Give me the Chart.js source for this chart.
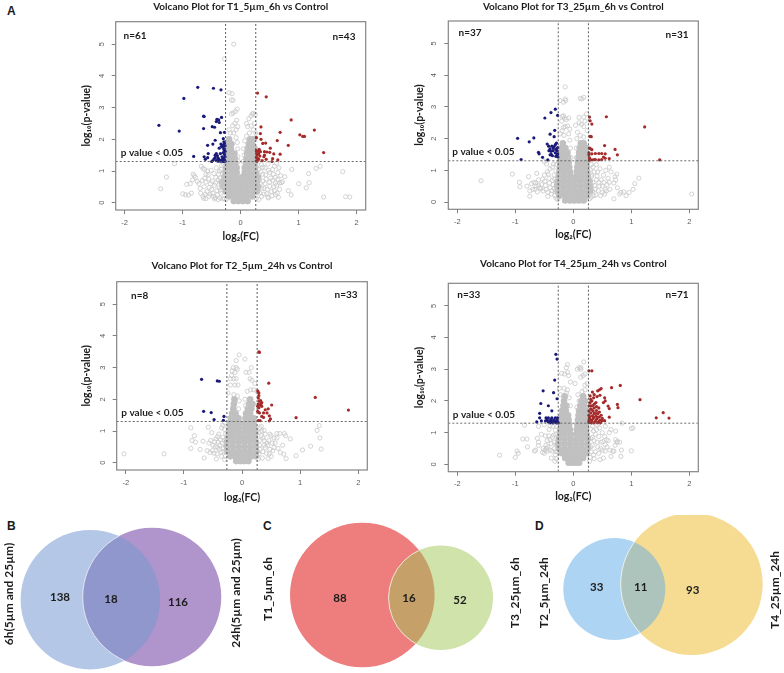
<!DOCTYPE html>
<html>
<head>
<meta charset="utf-8">
<title>Volcano plots and Venn diagrams</title>
<script src="https://cdn.jsdelivr.net/npm/chart.js@4/dist/chart.umd.min.js"></script>
<style>
html, body { margin: 0; padding: 0; background: #fff; width: 784px; height: 673px; overflow: hidden; }
canvas { position: absolute; display: block; }
.tag { position: absolute; font: bold 12px "Liberation Sans", sans-serif; color: #1a1a1a; line-height: 12px; }
</style>
</head>
<body>
<div class="tag" style="left:7px;top:5px">A</div>
<div class="tag" style="left:7px;top:520px">B</div>
<div class="tag" style="left:263px;top:520px">C</div>
<div class="tag" style="left:535px;top:520px">D</div>
<canvas id="volcanoT1" width="310" height="250" style="left:70px;top:0"></canvas>
<canvas id="volcanoT3" width="310" height="250" style="left:403px;top:0"></canvas>
<canvas id="volcanoT2" width="310" height="260" style="left:70px;top:250px"></canvas>
<canvas id="volcanoT4" width="310" height="260" style="left:403px;top:250px"></canvas>
<canvas id="vennCanvas" width="784" height="158" style="left:0;top:515px"></canvas>
<script>
// Axis ticks and cut-offs shared by the four volcano plots
const xTickValues = [-2, -1, 0, 1, 2];
const yTickValues = [0, 1, 2, 3, 4, 5];
const fcCut = 0.26;
const pCut = 1.3;

// T1_5um_6h: [log2FC, log10p]
const t1Down = [[-0.74,3.64],[-0.47,3.61],[-0.34,3.56],[-0.98,3.29],[-0.64,2.73],[-0.63,2.72],[-1.41,2.44],[-1.06,2.26],[-0.64,2.34],[-0.49,2.4],[-0.45,2.38],[-0.41,2.63],[-0.38,2.61],[-0.42,2.56],[-0.37,2.53],[-0.33,2.69],[-0.35,2.21],[-0.28,2.22],[-0.3,2.02],[-0.57,1.81],[-0.48,1.85],[-0.44,1.97],[-0.81,1.46],[-0.61,1.37],[-0.56,1.55],[-0.63,1.45],[-0.57,1.42],[-0.28,1.87],[-0.3,1.82],[-0.27,1.8],[-0.34,1.85],[-0.31,1.75],[-0.28,1.7],[-0.27,1.62],[-0.3,1.58],[-0.35,1.55],[-0.28,1.52],[-0.42,1.55],[-0.4,1.48],[-0.44,1.42],[-0.38,1.38],[-0.42,1.33],[-0.36,1.32],[-0.3,1.4],[-0.28,1.35],[-0.33,1.35],[-0.27,1.31],[-0.48,1.33],[-0.5,1.3],[-0.39,1.4],[-0.32,1.45],[-0.27,1.45],[-0.29,1.68],[-0.33,1.78],[-0.37,1.72],[-0.29,1.92],[-0.44,1.5],[-0.3,1.3],[-0.34,1.31],[-0.39,1.31],[-0.46,1.38]];
const t1Up = [[0.29,3.46],[0.44,3.34],[0.87,2.61],[1.27,2.29],[1.02,2.14],[1.07,2.09],[1.1,2.09],[1.43,1.58],[0.82,1.81],[0.68,2.22],[0.63,1.96],[0.35,2.39],[0.34,2.18],[0.27,2.05],[0.35,2],[0.38,1.87],[0.43,1.88],[0.51,1.72],[0.57,1.54],[0.68,1.53],[0.64,1.35],[0.54,1.3],[0.55,1.39],[0.45,1.6],[0.41,1.61],[0.5,1.59],[0.41,1.5],[0.32,1.68],[0.27,1.64],[0.31,1.54],[0.28,1.51],[0.27,1.43],[0.31,1.37],[0.28,1.31],[0.37,1.33],[0.4,1.45],[0.44,1.37],[0.34,1.61],[0.29,1.4],[0.27,1.32],[0.33,1.47],[0.3,1.62],[0.28,1.55]];
const t1Other = [[-0.12,5],[-0.28,4.54],[-0.2,3.47],[-0.15,3.44],[-0.16,3.24],[-0.13,3.23],[-0.06,2.95],[-0.09,2.88],[-0.16,2.8],[-0.13,2.83],[-0.07,2.6],[-0.1,2.5],[-0.14,2.43],[-0.2,2.3],[-0.18,2.2],[-0.05,2.4],[-0.08,2.3],[-0.12,2.2],[0.18,2.74],[0.2,2.8],[0.22,2.82],[0.25,2.78],[0.14,2.65],[0.1,2.5],[0.24,2.5],[0.18,2.42],[0.12,2.4],[0.22,2.3],[0.15,2.2],[0.1,2.1],[0.07,1.95],[-0.08,2.05],[-0.06,1.9],[-0.05,1.7],[0.05,1.7],[0.06,1.5],[-0.05,1.45],[0.26,2.05],[0.26,2.2],[0.04,1.3],[-0.04,1.3],[-1.14,1.23],[-1.28,0.81],[-1.38,0.44],[-1,0.28],[-0.95,0.25],[-0.9,0.24],[-0.85,0.3],[-0.93,0.58],[-0.87,0.6],[-0.83,0.72],[-0.82,0.9],[-0.8,0.85],[-0.78,0.8],[-0.75,0.67],[-0.72,0.6],[-0.7,0.45],[-0.69,0.3],[-0.65,0.2],[-0.6,0.13],[-0.55,0.2],[-0.68,1.15],[-0.65,1.08],[-0.62,1.05],[-0.6,0.9],[-0.57,1],[-0.55,0.75],[-0.52,0.6],[-0.5,0.42],[-0.48,0.3],[-0.45,0.55],[-0.43,0.8],[-0.42,1.1],[-0.4,0.25],[-0.38,0.9],[-0.36,0.65],[-0.35,0.4],[-0.34,1.05],[-0.36,0.15],[-0.45,0.12],[-0.6,0.65],[-0.63,0.5],[-0.66,0.7],[1.88,0.18],[1.81,0.19],[1.43,0.18],[1.76,0.98],[1.37,1.15],[1.3,1.08],[1.18,0.63],[1.17,0.92],[1.13,0.47],[1,0.6],[0.88,1.05],[0.87,0.25],[0.82,0.38],[0.76,0.82],[0.72,0.66],[0.7,0.63],[0.67,0.62],[0.65,0.17],[0.62,0.55],[0.6,0.8],[0.6,0.25],[0.57,0.5],[0.55,1.05],[0.53,0.35],[0.5,0.95],[0.5,0.65],[0.48,0.15],[0.45,0.28],[0.44,0.75],[0.42,1.1],[0.4,0.45],[0.38,0.9],[0.36,0.2],[0.36,1.2],[0.34,0.6],[0.62,1.25],[0.66,1.1],[0.58,1.15],[0.64,0.95],[0.55,0.7]];
const t1Near = [[-0.31,0.12],[-0.34,0.3],[-0.37,0.47],[-0.33,0.52],[-0.39,0.72],[-0.35,0.78],[-0.31,0.9],[-0.37,1],[-0.33,1.18],[-0.3,1.22],[-0.41,0.38],[-0.43,0.62],[-0.46,0.92],[-0.47,0.2],[-0.49,0.68],[-0.51,1.02],[-0.53,0.27],[-0.54,0.48],[-0.56,0.88],[-0.58,0.35],[-0.61,0.27],[-0.62,0.77],[-0.64,0.14],[-0.44,0.16],[-0.39,0.1],[-0.31,0.62],[-0.28,0.13],[-0.25,0.1],[0.31,0.1],[0.33,0.3],[0.36,0.45],[0.32,0.72],[0.38,0.68],[0.35,0.98],[0.31,1.05],[0.4,0.27],[0.42,0.6],[0.43,0.88],[0.46,0.42],[0.47,0.18],[0.48,1.02],[0.5,0.52],[0.52,0.78],[0.54,0.22],[0.56,0.9],[0.58,0.38],[0.6,0.62],[0.63,0.3],[0.64,0.74],[0.67,0.42],[0.69,0.85],[0.27,0.14],[0.38,1.12],[0.47,1.22],[0.29,1.2]];
// dense middle of the cloud, one row per log10p: [log10p, [log2FC...]]
const t1Core = [[0.05,[-0.12,-0.04,0.04,0.12]],[0.2,[-0.2,-0.1,0,0.1,0.2]],[0.35,[-0.26,-0.16,-0.07,0.03,0.12,0.22,0.28]],[0.5,[-0.3,-0.2,-0.1,0,0.1,0.2,0.3]],[0.65,[-0.32,-0.22,-0.12,-0.02,0.08,0.18,0.28]],[0.8,[-0.28,-0.18,-0.08,0.02,0.12,0.22,0.3]],[0.95,[-0.26,-0.16,-0.07,0.07,0.16,0.26]],[1.1,[-0.25,-0.16,-0.07,0.07,0.16,0.25]],[1.25,[-0.24,-0.16,-0.09,0.09,0.16,0.24]],[1.4,[-0.24,-0.16,-0.1,0.1,0.16,0.24]],[1.55,[-0.24,-0.17,-0.11,0.11,0.17,0.24]],[1.7,[-0.23,-0.17,0.12,0.18,0.24]],[1.85,[-0.22,-0.16,0.14,0.2]],[2,[-0.2,0.16,0.22]]];

// T3_25um_6h
const t3Down = [[-0.31,2.93],[-0.385,2.82],[-0.27,2.73],[-0.49,2.65],[-0.32,2.26],[-0.4,2.14],[-0.33,2.06],[-0.96,2.01],[-0.68,2.02],[-0.76,1.9],[-0.45,1.83],[-0.9,1.34],[-0.6,1.57],[-0.59,1.52],[-0.53,1.41],[-0.44,1.33],[-0.4,1.68],[-0.425,1.76],[-0.37,1.76],[-0.31,1.81],[-0.29,1.86],[-0.345,1.7],[-0.385,1.6],[-0.4,1.49],[-0.31,1.55],[-0.27,1.52],[-0.3,1.44],[-0.36,1.46],[-0.265,1.42],[-0.28,1.62],[-0.33,1.75],[-0.27,1.72],[-0.3,1.66],[-0.35,1.62],[-0.38,1.5],[-0.28,1.48],[-0.42,1.62]];
const t3Up = [[0.57,2.69],[1.23,2.37],[1.49,1.33],[0.28,2.68],[0.29,2.56],[0.32,2.46],[0.29,2.07],[0.31,2.06],[0.54,1.78],[0.72,1.66],[0.76,1.49],[0.62,1.37],[0.55,1.52],[0.49,1.53],[0.52,1.42],[0.44,1.53],[0.38,1.53],[0.32,1.52],[0.27,1.55],[0.28,1.7],[0.32,1.65],[0.28,1.39],[0.28,1.32],[0.32,1.33],[0.38,1.34],[0.44,1.33],[0.55,1.38],[0.49,1.34],[0.27,1.49],[0.3,1.68],[0.36,1.34]];
const t3Other = [[-0.14,3.63],[0.12,3.27],[0.18,3.3],[0.15,3.25],[-0.23,3.2],[-0.14,3.25],[-0.13,3.2],[-0.17,3.15],[-0.19,2.7],[-0.17,2.72],[-0.15,2.65],[-0.08,2.65],[-0.12,2.6],[-0.2,2.55],[-0.1,2.4],[-0.14,2.38],[-0.17,2.35],[-0.19,2.25],[-0.16,2.1],[-0.06,2.3],[-0.23,2.15],[-0.08,2.15],[0.1,2.67],[0.18,2.68],[0.23,2.78],[0.2,2.55],[0.1,2.5],[0.14,2.45],[0.04,2.42],[0.18,2.38],[0.07,2.2],[0.24,2.25],[0.12,2.1],[0.18,2.05],[0.06,2],[-0.06,1.95],[-0.05,1.7],[0.05,1.7],[-0.04,1.4],[0.05,1.4],[-1.59,0.67],[-1.05,0.88],[-0.93,0.62],[-0.92,0.48],[-0.77,0.8],[-0.8,0.5],[-0.75,0.35],[-0.72,0.58],[-0.7,0.4],[-0.68,0.62],[-0.65,0.6],[-0.63,0.9],[-0.6,0.7],[-0.55,0.55],[-0.52,0.35],[-0.5,0.85],[-0.48,0.52],[-0.45,0.95],[-0.42,0.75],[-0.4,0.45],[-0.38,0.25],[-0.35,0.55],[-0.33,0.85],[-0.36,1.1],[-0.4,1.05],[-0.32,0.2],[-0.3,0.12],[-0.75,0.18],[-0.5,1.28],[-0.46,1.2],[-0.58,0.45],[-0.64,0.5],[-0.44,0.3],[2.04,0.25],[1.13,0.75],[1.06,0.58],[1.03,0.4],[0.96,0.3],[0.91,0.2],[0.87,0.32],[0.82,0.3],[0.8,0.25],[0.76,0.45],[0.72,0.8],[0.73,0.7],[0.7,0.6],[0.75,0.88],[0.65,0.95],[0.62,1.1],[0.56,1],[0.52,0.85],[0.48,0.7],[0.6,0.75],[0.58,0.55],[0.55,0.4],[0.5,0.3],[0.45,0.5],[0.42,0.95],[0.4,0.7],[0.38,0.4],[0.35,0.2],[0.34,1.1],[0.32,0.85],[0.3,0.55],[0.46,1.05],[0.7,0.1],[0.63,0.4]];
const t3Near = [[-0.31,0.32],[-0.33,0.42],[-0.36,0.68],[-0.32,0.72],[-0.3,0.98],[-0.34,1.2],[-0.29,1.18],[-0.37,0.36],[-0.41,0.6],[-0.43,0.88],[-0.44,0.18],[-0.47,0.4],[-0.49,0.66],[-0.53,0.72],[-0.56,0.42],[-0.6,0.52],[-0.62,0.32],[-0.66,0.4],[-0.27,0.08],[0.31,0.15],[0.33,0.34],[0.34,0.62],[0.31,0.8],[0.36,0.95],[0.29,1.02],[0.37,0.52],[0.39,0.22],[0.41,0.82],[0.43,0.36],[0.44,0.62],[0.47,0.2],[0.5,0.5],[0.53,0.62],[0.54,0.25],[0.57,0.35],[0.62,0.62],[0.28,0.1],[0.31,1.18],[0.4,1.18]];
const t3Core = [[0.05,[-0.14,-0.06,0.02,0.1,0.18]],[0.2,[-0.24,-0.14,-0.05,0.05,0.14,0.24]],[0.35,[-0.27,-0.17,-0.07,0.03,0.13,0.23,0.29]],[0.5,[-0.28,-0.18,-0.08,0.02,0.12,0.22,0.29]],[0.65,[-0.27,-0.17,-0.07,0.03,0.13,0.23,0.28]],[0.8,[-0.25,-0.15,-0.05,0.05,0.15,0.25]],[0.95,[-0.24,-0.15,-0.06,0.06,0.15,0.24]],[1.1,[-0.23,-0.15,-0.07,0.07,0.15,0.23]],[1.25,[-0.23,-0.15,-0.08,0.08,0.15,0.23]],[1.4,[-0.22,-0.15,-0.09,0.09,0.15,0.22]],[1.55,[-0.22,-0.15,-0.1,0.1,0.16,0.22]],[1.7,[-0.2,-0.14,0.11,0.17,0.22]],[1.85,[-0.18,0.13,0.18]]];

// T2_5um_24h
const t2Down = [[-0.695,2.63],[-0.425,2.58],[-0.39,2.57],[-0.66,1.62],[-0.53,1.58],[-0.31,1.46],[-0.48,1.36],[-0.32,1.34]];
const t2Up = [[0.29,3.5],[0.3,3.48],[0.46,2.51],[1.26,2.06],[1.83,1.66],[0.93,1.42],[0.51,1.82],[0.27,2.26],[0.29,2.2],[0.29,2.12],[0.32,1.96],[0.34,1.9],[0.28,1.86],[0.31,1.82],[0.34,1.78],[0.27,1.78],[0.4,1.67],[0.45,1.7],[0.43,1.57],[0.37,1.57],[0.47,1.48],[0.49,1.38],[0.47,1.32],[0.27,1.62],[0.3,1.57],[0.34,1.46],[0.28,1.33],[0.31,1.33],[0.29,1.73],[0.33,1.86],[0.3,1.94],[0.28,2.04],[0.37,1.43]];
const t2Other = [[-0.05,3.4],[0.05,3.27],[-0.1,3.22],[-0.15,3],[-0.17,2.9],[-0.18,2.75],[-0.1,3],[-0.12,2.85],[-0.08,2.95],[-0.2,2.65],[-0.14,2.65],[-0.1,2.65],[0.07,2.85],[0.12,2.85],[0.16,3],[0.14,2.65],[0.17,2.6],[0.22,2.5],[-0.2,2.45],[-0.12,2.45],[-0.07,2.45],[0.15,2.3],[0.2,2.3],[0.09,2.25],[0.26,2.25],[-0.24,2.2],[-0.14,2.15],[-0.08,2.1],[0.05,2],[-0.05,1.95],[0.06,1.8],[-0.06,1.7],[-2.03,0.28],[-1.34,0.28],[-0.88,1.1],[-0.82,0.85],[-0.88,0.45],[-0.86,0.7],[-0.8,0.65],[-0.72,0.42],[-0.67,0.68],[-0.65,0.15],[-0.6,0.38],[-0.57,0.62],[-0.55,0.32],[-0.5,0.55],[-0.48,0.3],[-0.45,0.75],[-0.43,0.28],[-0.4,0.9],[-0.38,0.55],[-0.35,0.2],[-0.33,0.8],[-0.32,0.45],[-0.3,1.05],[-0.35,1.1],[-0.44,0.12],[-0.58,1.12],[-0.3,0.1],[-0.52,0.95],[-0.46,0.5],[-0.54,0.7],[-0.41,0.65],[1.33,1.17],[1.29,1.02],[1.34,0.78],[1.36,0.43],[1.18,0.52],[1.04,0.4],[0.93,0.22],[0.76,0.13],[0.72,0.27],[0.7,0.55],[0.66,0.32],[0.83,0.75],[0.75,0.85],[0.73,0.92],[0.65,0.92],[0.6,0.78],[0.6,0.92],[0.57,0.62],[0.55,0.48],[0.53,0.38],[0.5,0.85],[0.5,0.2],[0.46,0.7],[0.45,0.13],[0.42,0.3],[0.4,0.9],[0.38,0.55],[0.35,0.15],[0.34,1],[0.3,0.7],[0.33,1.15],[0.48,0.42],[0.44,0.55],[0.36,0.78]];
const t2Near = [[-0.29,0.2],[-0.31,0.36],[-0.34,0.62],[-0.3,0.7],[-0.28,0.92],[-0.33,1.18],[-0.36,0.34],[-0.37,0.72],[-0.39,0.42],[-0.42,0.48],[-0.42,0.82],[-0.47,0.66],[-0.51,0.38],[-0.28,0.52],[-0.3,1.25],[0.29,0.28],[0.31,0.42],[0.3,0.55],[0.33,0.85],[0.29,0.95],[0.36,0.35],[0.38,0.7],[0.4,0.48],[0.43,0.62],[0.47,0.28],[0.48,0.9],[0.52,0.62],[0.55,0.78],[0.28,0.12],[0.31,1.1],[0.38,1.02],[0.62,0.45]];
const t2Core = [[0.05,[-0.1,-0.03,0.04,0.11]],[0.2,[-0.2,-0.11,-0.02,0.07,0.16,0.24]],[0.35,[-0.25,-0.15,-0.05,0.05,0.15,0.25]],[0.5,[-0.26,-0.16,-0.06,0.04,0.14,0.24]],[0.65,[-0.26,-0.16,-0.06,0.04,0.14,0.24]],[0.8,[-0.24,-0.15,-0.06,0.03,0.12,0.22]],[0.95,[-0.23,-0.14,-0.05,0.05,0.14,0.23]],[1.1,[-0.21,-0.13,-0.05,0.05,0.13,0.21]],[1.25,[-0.2,-0.13,-0.05,0.05,0.13,0.2]],[1.4,[-0.19,-0.12,-0.06,0.06,0.13,0.2]],[1.55,[-0.17,-0.11,0.07,0.14]],[1.7,[-0.15,0.1,0.16]],[1.85,[-0.14,0.12,0.18]],[2,[-0.13,0.14]]];

// T4_25um_24h
const t4Down = [[-0.3,3.47],[-0.28,3.32],[-0.32,2.66],[-0.52,2.32],[-0.34,2.26],[-0.28,2.07],[-0.56,1.92],[-0.43,1.85],[-0.37,1.69],[-0.58,1.61],[-0.58,1.47],[-0.63,1.34],[-0.55,1.37],[-0.47,1.47],[-0.43,1.47],[-0.37,1.47],[-0.31,1.47],[-0.27,1.47],[-0.45,1.4],[-0.41,1.36],[-0.37,1.34],[-0.31,1.34],[-0.27,1.34],[-0.28,1.4],[-0.34,1.4],[-0.39,1.41],[-0.48,1.37],[-0.43,1.34],[-0.29,1.31],[-0.26,1.31],[-0.35,1.31],[-0.4,1.31],[-0.32,1.37]];
const t4Up = [[0.27,2.95],[0.32,2.95],[0.81,2.49],[0.66,2.42],[1.15,2.04],[1.43,1.47],[1.55,1.63],[1.65,1.46],[0.48,2.39],[0.45,2.35],[0.42,2.32],[0.33,2.28],[0.29,2.16],[0.35,2.1],[0.41,2.14],[0.54,2.1],[0.55,2],[0.32,2],[0.39,1.95],[0.29,1.95],[0.6,1.84],[0.62,1.76],[0.76,1.89],[0.77,1.79],[0.62,1.49],[0.27,1.85],[0.33,1.85],[0.36,1.78],[0.3,1.75],[0.27,1.68],[0.34,1.68],[0.4,1.7],[0.45,1.65],[0.3,1.62],[0.36,1.6],[0.42,1.6],[0.48,1.55],[0.27,1.55],[0.33,1.53],[0.39,1.52],[0.45,1.5],[0.28,1.45],[0.34,1.44],[0.4,1.42],[0.5,1.45],[0.27,1.38],[0.32,1.37],[0.38,1.36],[0.44,1.35],[0.5,1.38],[0.54,1.38],[0.27,1.32],[0.31,1.31],[0.36,1.31],[0.42,1.31],[0.47,1.31],[0.3,2.05],[0.36,2.2],[0.46,2.18],[0.52,1.95],[0.4,1.82],[0.44,1.78],[0.28,1.5],[0.35,1.48],[0.3,1.4],[0.36,1.9],[0.3,1.85],[0.42,1.48],[0.38,1.62],[0.46,1.4],[0.32,1.72]];
const t4Other = [[0.18,3.23],[0.13,3.05],[0.1,3.05],[0.07,3],[0.13,3],[-0.1,3.15],[-0.12,3.05],[-0.1,2.9],[-0.2,2.87],[-0.15,2.85],[-0.08,2.8],[0.2,2.85],[0.17,2.8],[0.13,2.75],[-0.05,2.6],[0.03,2.55],[0.2,2.5],[0.24,2.55],[-0.24,2.4],[-0.16,2.4],[-0.1,2.35],[0.2,2.35],[0.15,2.3],[-0.22,2.2],[-0.12,2.25],[0.08,2.2],[-0.07,2.1],[0.1,2],[-0.05,1.85],[0.06,1.8],[-1.27,0.29],[-1,0.22],[-0.97,0.42],[-0.95,0.35],[-0.87,0.8],[-0.8,0.8],[-0.79,0.55],[-0.67,0.42],[-0.65,0.45],[-0.62,0.82],[-0.6,0.7],[-0.6,0.6],[-0.55,0.95],[-0.52,0.5],[-0.5,0.35],[-0.48,0.9],[-0.47,0.6],[-0.45,0.75],[-0.42,1.1],[-0.4,0.45],[-0.38,0.2],[-0.35,1.2],[-0.33,0.7],[-0.32,0.1],[-0.3,0.95],[-0.3,0.4],[-0.84,1.24],[-0.6,1.2],[-0.5,1.25],[-0.44,0.55],[-0.36,0.85],[1,0.43],[1.03,1.15],[1,1.13],[0.83,0.45],[0.82,0.25],[0.75,0.7],[0.8,0.7],[0.76,0.72],[0.73,0.78],[0.7,0.42],[0.68,0.42],[0.72,0.6],[0.65,0.25],[0.63,0.45],[0.6,0.75],[0.57,0.78],[0.55,0.62],[0.55,0.42],[0.52,0.2],[0.5,0.45],[0.48,0.7],[0.46,0.15],[0.42,0.55],[0.4,1.1],[0.38,0.95],[0.35,0.3],[0.33,0.85],[0.33,1.2],[0.3,0.55],[0.62,1],[0.55,1.2],[0.45,1.15],[0.84,1.3],[0.65,1.1],[0.73,1.05],[0.5,1],[0.44,0.35]];
const t4Near = [[-0.29,0.18],[-0.31,0.3],[-0.33,0.5],[-0.3,0.62],[-0.34,0.92],[-0.31,1.08],[-0.29,1.2],[-0.37,0.42],[-0.38,0.66],[-0.4,0.78],[-0.42,0.9],[-0.45,0.42],[-0.46,0.5],[-0.49,0.45],[-0.53,0.38],[-0.28,0.42],[-0.4,1.22],[0.29,0.22],[0.31,0.4],[0.33,0.6],[0.3,0.82],[0.36,0.75],[0.35,1.05],[0.3,1.12],[0.38,0.4],[0.41,0.7],[0.44,0.88],[0.47,0.5],[0.51,0.72],[0.54,0.88],[0.58,0.55],[0.42,1.25],[0.28,0.1],[0.36,0.18]];
const t4Core = [[0.05,[-0.08,-0.02,0.04,0.1]],[0.2,[-0.14,-0.06,0.02,0.1,0.17]],[0.35,[-0.2,-0.11,-0.02,0.07,0.16,0.23]],[0.5,[-0.25,-0.15,-0.05,0.05,0.15,0.25]],[0.65,[-0.26,-0.16,-0.06,0.04,0.14,0.24]],[0.8,[-0.25,-0.15,-0.05,0.05,0.15,0.25]],[0.95,[-0.23,-0.14,-0.05,0.05,0.14,0.23]],[1.1,[-0.22,-0.14,-0.06,0.06,0.14,0.22]],[1.25,[-0.21,-0.14,-0.07,0.07,0.14,0.22]],[1.4,[-0.21,-0.14,-0.08,0.08,0.14,0.22]],[1.55,[-0.2,-0.13,-0.09,0.09,0.14,0.21]],[1.7,[-0.19,-0.13,0.1,0.16,0.22]],[1.85,[-0.17,-0.12,0.12,0.18]],[2,[-0.16,0.14,0.2]],[2.15,[-0.15,0.17]]];

// Venn diagrams: every circle in one coordinate frame
const vennCircleX = { B: [90.3, 152], C: [362.3, 440.8], D: [614.3, 691.7] };
const vennCircleY = { B: [599.7, 597], C: [595, 597.8], D: [589, 584] };
const vennCircleR = { B: [69.7, 69.3], C: [72.3, 52.2], D: [51, 71] };
const vennCounts = ['138', '18', '116', '88', '16', '52', '33', '11', '93'];
const vennCountX = [60, 111, 178, 340, 409, 460, 596.7, 640.7, 692.7];
const vennCountY = [597, 599, 602, 598, 598.7, 600.7, 587, 587, 590];
const vennNames = ['6h(5µm and 25µm)', '24h(5µm and 25µm)', 'T1_5µm_6h', 'T3_25µm_6h', 'T2_5µm_24h', 'T4_25µm_24h'];
const vennNameX = [9, 235.7, 267.7, 515.3, 543.7, 775.3];
const vennNameY = [594, 593, 589, 592.7, 592.7, 590];

const textFont = 'Lato, "Open Sans", sans-serif';
const textColor = '#1c1c1c';
const greyColor = '#c8c8c8';

function toPoints(pairs) {
    return pairs.map(p => ({ x: p[0], y: p[1] }));
}

// rows of the dense middle -> flat list of points
function coreToPoints(rows) {
    const out = [];
    rows.forEach(r => r[1].forEach(x => out.push({ x: x, y: r[0] })));
    return out;
}

const frameAndNotes = {
    id: 'frameAndNotes',
    afterDraw(chart, args, opts) {
        const { ctx, chartArea, scales } = chart;
        ctx.save();
        ctx.strokeStyle = '#858585';
        ctx.lineWidth = 1.2;
        ctx.strokeRect(chartArea.left, chartArea.top, chartArea.right - chartArea.left, chartArea.bottom - chartArea.top);
        ctx.fillStyle = textColor;
        ctx.font = 'bold 10px ' + textFont;
        ctx.textAlign = 'center';
        ctx.textBaseline = 'middle';
        opts.notes.forEach(n => {
            ctx.fillText(n.text, scales.x.getPixelForValue(n.x), scales.y.getPixelForValue(n.y));
        });
        ctx.restore();
    }
};

function renderVolcano(config) {
    const { canvasId, title, titleY, xTitleY, boxLeft, boxRight, boxTop, boxBottom, canvasLeft, canvasTop, yMin, yMax, down, up, other, core, notes } = config;
    const canvas = document.getElementById(canvasId);
    const titleSize = 10;
    const axisTitleSize = 10.5;
    const xMin = -2.155, xMax = 2.155;

    return new Chart(canvas.getContext('2d'), {
        type: 'scatter',
        data: {
            datasets: [
                { data: [{ x: -fcCut, y: yMin }, { x: -fcCut, y: yMax }], showLine: true, pointRadius: 0, borderColor: '#4a4a4a', borderWidth: 0.9, borderDash: [2, 2] },
                { data: [{ x: fcCut, y: yMin }, { x: fcCut, y: yMax }], showLine: true, pointRadius: 0, borderColor: '#4a4a4a', borderWidth: 0.9, borderDash: [2, 2] },
                { data: [{ x: xMin, y: pCut }, { x: xMax, y: pCut }], showLine: true, pointRadius: 0, borderColor: '#5c5c5c', borderWidth: 0.9, borderDash: [2, 2] },
                { data: toPoints(down), pointRadius: 1.6, backgroundColor: '#1a1a7a', borderWidth: 0 },
                { data: toPoints(up), pointRadius: 1.6, backgroundColor: '#a52a2a', borderWidth: 0 },
                { data: toPoints(other), pointRadius: 2.1, backgroundColor: 'rgba(255,255,255,0)', borderColor: greyColor, borderWidth: 0.8 },
                { data: coreToPoints(core), pointRadius: 3.3, backgroundColor: '#c0c0c0', borderWidth: 0 }
            ]
        },
        options: {
            responsive: false,
            animation: false,
            events: [],
            layout: { autoPadding: false, padding: { right: canvas.width - (boxRight - canvasLeft) } },
            scales: {
                x: {
                    type: 'linear', min: xMin, max: xMax,
                    afterBuildTicks: s => { s.ticks = xTickValues.map(v => ({ value: v })); },
                    afterFit: s => { s.height = canvasTop + canvas.height - boxBottom; },
                    grid: { drawOnChartArea: false, drawTicks: true, tickLength: 4, color: '#808080' },
                    border: { display: false },
                    ticks: { padding: 4, maxRotation: 0, autoSkip: false, color: '#5a5a5a', font: { family: '"Liberation Sans"', size: 7.5 } },
                    title: { display: true, text: 'log₂(FC)', color: textColor, font: { family: textFont, size: axisTitleSize, weight: 'bold', lineHeight: 1 }, padding: { top: 0, bottom: canvasTop + canvas.height - xTitleY - axisTitleSize / 2 } }
                },
                y: {
                    type: 'linear', min: yMin, max: yMax,
                    afterBuildTicks: s => { s.ticks = yTickValues.map(v => ({ value: v })); },
                    afterFit: s => { s.width = boxLeft - canvasLeft; },
                    grid: { drawOnChartArea: false, drawTicks: true, tickLength: 4, color: '#808080' },
                    border: { display: false },
                    ticks: { padding: 8, minRotation: 90, maxRotation: 90, crossAlign: 'center', autoSkip: false, color: '#5a5a5a', font: { family: '"Liberation Sans"', size: 7.5 } },
                    title: { display: true, text: 'log₁₀(p-value)', color: textColor, font: { family: textFont, size: axisTitleSize, weight: 'bold', lineHeight: 1 }, padding: { top: 11.5, bottom: 0 } }
                }
            },
            plugins: {
                legend: { display: false },
                tooltip: { enabled: false },
                title: {
                    display: true, text: title, fullSize: false, color: textColor,
                    font: { family: textFont, size: titleSize, weight: 'bold', lineHeight: 1 },
                    padding: { top: titleY - canvasTop - titleSize / 2, bottom: boxTop - titleY - titleSize / 2 }
                },
                frameAndNotes: { notes: notes }
            }
        },
        plugins: [frameAndNotes]
    });
}

renderVolcano({
    canvasId: 'volcanoT1', title: 'Volcano Plot for T1_5µm_6h vs Control', titleY: 7, xTitleY: 237,
    canvasLeft: 70, canvasTop: 0, boxLeft: 115.7, boxRight: 365.7, boxTop: 21.7, boxBottom: 210,
    yMin: -0.23, yMax: 5.71, down: t1Down, up: t1Up, other: t1Other.concat(t1Near), core: t1Core,
    notes: [{ text: 'n=61', x: -1.82, y: 5.26 }, { text: 'n=43', x: 1.78, y: 5.24 }, { text: 'p value < 0.05', x: -1.53, y: 1.57 }]
});
renderVolcano({
    canvasId: 'volcanoT3', title: 'Volcano Plot for T3_25µm_6h vs Control', titleY: 7, xTitleY: 235,
    canvasLeft: 403, canvasTop: 0, boxLeft: 448.3, boxRight: 698.3, boxTop: 21, boxBottom: 209.3,
    yMin: -0.23, yMax: 5.71, down: t3Down, up: t3Up, other: t3Other.concat(t3Near), core: t3Core,
    notes: [{ text: 'n=37', x: -1.78, y: 5.34 }, { text: 'n=31', x: 1.79, y: 5.28 }, { text: 'p value < 0.05', x: -1.55, y: 1.6 }]
});
renderVolcano({
    canvasId: 'volcanoT2', title: 'Volcano Plot for T2_5µm_24h vs Control', titleY: 265.3, xTitleY: 498,
    canvasLeft: 70, canvasTop: 250, boxLeft: 116.7, boxRight: 367.3, boxTop: 281.7, boxBottom: 470,
    yMin: -0.23, yMax: 5.71, down: t2Down, up: t2Up, other: t2Other.concat(t2Near), core: t2Core,
    notes: [{ text: 'n=8', x: -1.76, y: 5.27 }, { text: 'n=33', x: 1.79, y: 5.31 }, { text: 'p value < 0.05', x: -1.54, y: 1.59 }]
});
renderVolcano({
    canvasId: 'volcanoT4', title: 'Volcano Plot for T4_25µm_24h vs Control', titleY: 263.7, xTitleY: 497,
    canvasLeft: 403, canvasTop: 250, boxLeft: 448.3, boxRight: 698.3, boxTop: 283.3, boxBottom: 471.7,
    yMin: -0.23, yMax: 5.71, down: t4Down, up: t4Up, other: t4Other.concat(t4Near), core: t4Core,
    notes: [{ text: 'n=33', x: -1.8, y: 5.34 }, { text: 'n=71', x: 1.79, y: 5.34 }, { text: 'p value < 0.05', x: -1.54, y: 1.56 }]
});

// Overlap of two circles gets its own colour, so it is painted over the bubbles
const vennOverlap = {
    id: 'vennOverlap',
    afterDatasetsDraw(chart, args, opts) {
        const { ctx, chartArea, scales } = chart;
        chart.data.datasets.forEach((ds, i) => {
            const pts = chart.getDatasetMeta(i).data;
            const a = pts[0], b = pts[1];
            const ra = a.options.radius, rb = b.options.radius;
            ctx.save();
            ctx.beginPath();
            ctx.rect(chartArea.left, chartArea.top, chartArea.right - chartArea.left, chartArea.bottom - chartArea.top);
            ctx.clip();
            ctx.beginPath();
            ctx.arc(a.x, a.y, ra, 0, Math.PI * 2);
            ctx.clip();
            ctx.beginPath();
            ctx.arc(b.x, b.y, rb, 0, Math.PI * 2);
            ctx.fillStyle = ds.overlapColor;
            ctx.fill();
            ctx.strokeStyle = 'rgba(255,255,255,0.7)';
            ctx.lineWidth = 1;
            ctx.stroke();
            ctx.restore();
        });
        ctx.save();
        ctx.fillStyle = textColor;
        ctx.textAlign = 'center';
        ctx.textBaseline = 'middle';
        ctx.font = 'bold 11.5px ' + textFont;
        vennCounts.forEach((t, i) => {
            ctx.fillText(t, scales.x.getPixelForValue(vennCountX[i]), scales.y.getPixelForValue(vennCountY[i]));
        });
        ctx.font = 'bold 12px ' + textFont;
        vennNames.forEach((t, i) => {
            ctx.save();
            ctx.translate(scales.x.getPixelForValue(vennNameX[i]), scales.y.getPixelForValue(vennNameY[i]));
            ctx.rotate(-Math.PI / 2);
            ctx.fillText(t, 0, 0);
            ctx.restore();
        });
        ctx.restore();
    }
};

function vennDataset(key, colors, overlapColor) {
    return {
        data: vennCircleX[key].map((x, i) => ({ x: x, y: vennCircleY[key][i], r: vennCircleR[key][i] })),
        backgroundColor: colors,
        borderWidth: 0,
        overlapColor: overlapColor
    };
}

new Chart(document.getElementById('vennCanvas').getContext('2d'), {
    type: 'bubble',
    data: {
        datasets: [
            vennDataset('B', ['#b4c7e6', '#b094cc'], '#8f97cc'),
            vennDataset('C', ['#ee7e7e', '#cfe3aa'], '#c6a069'),
            vennDataset('D', ['#aed4f3', '#f6dc92'], '#acc4bc')
        ]
    },
    options: {
        responsive: false,
        animation: false,
        events: [],
        layout: { autoPadding: false, padding: 0 },
        scales: {
            x: { type: 'linear', min: 0, max: 784, display: false },
            y: { type: 'linear', min: 515, max: 673, reverse: true, display: false }
        },
        plugins: { legend: { display: false }, tooltip: { enabled: false } }
    },
    plugins: [vennOverlap]
});
</script>
</body>
</html>
